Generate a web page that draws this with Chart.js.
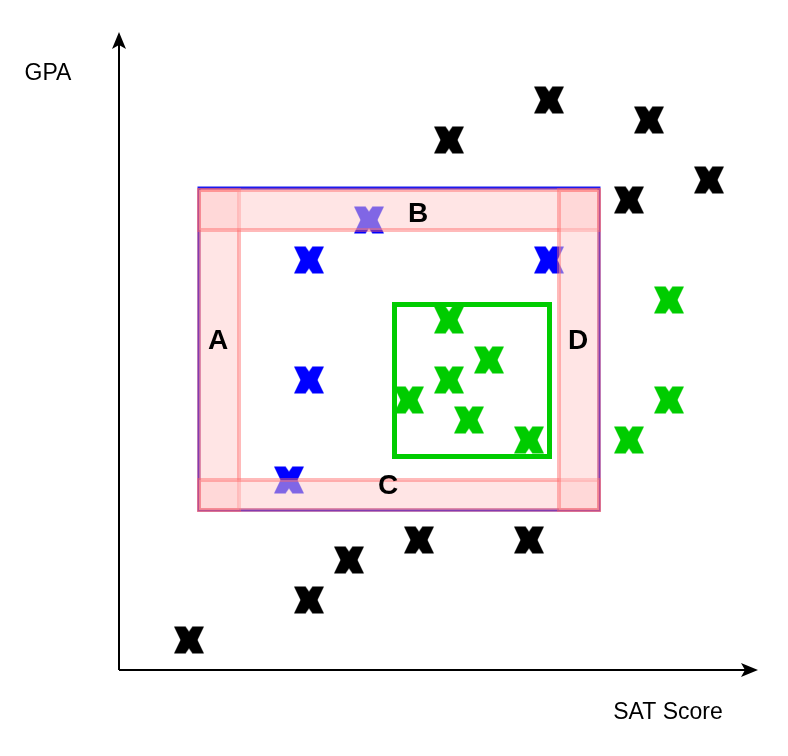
<!DOCTYPE html>
<html>
<head>
<meta charset="utf-8">
<script src="https://cdn.jsdelivr.net/npm/chart.js@4.4.1/dist/chart.umd.min.js"></script>
<style>
  html, body { margin: 0; padding: 0; background: #ffffff; }
  #wrap { width: 788px; height: 756px; }
</style>
</head>
<body>
<div id="wrap"><canvas id="c" width="788" height="756"></canvas></div>
<script>
// ---- data (SAT score units, GPA units; arbitrary, no ticks shown) ----
const blackSAT = [7, 19, 23, 30, 41, 33, 43, 53, 51, 59];
const blackGPA = [3, 7, 11, 13, 13, 53, 57, 55, 47, 49];
const blueSAT  = [19, 25, 43, 19, 17];
const blueGPA  = [41, 45, 41, 29, 19];
const greenSAT = [33, 37, 33, 29, 35, 41, 55, 55, 51];
const greenGPA = [35, 31, 29, 27, 25, 23, 37, 27, 23];

// regions: [xMin, xMax, yMin, yMax]
const outerBox = [8, 48, 16, 48.2];
const greenBox = [27.55, 43.05, 21.35, 36.55];
const bandNames = ['A', 'B', 'C', 'D'];
const bandBoxes = [
  [8, 12, 16, 48],
  [8, 48, 44, 48],
  [8, 48, 16, 19],
  [44, 48, 16, 48]
];
const bandLabelSAT = [9.9, 29.9, 26.9, 45.9];
const bandLabelGPA = [32.9, 45.6, 18.4, 32.9];
const xAxisTitle = 'SAT Score';
const yAxisTitle = 'GPA';

function makeX(color) {
  const w = 32, h = 29;
  const cv = document.createElement('canvas');
  cv.width = w; cv.height = h;
  const g = cv.getContext('2d');
  g.translate(w / 2, h / 2);
  g.fillStyle = color;
  g.beginPath();
  const pts = [[-15,-13.5],[-3.5,-13.5],[0,-8.5],[3.5,-13.5],[15,-13.5],[8.5,0],[15,13.5],[3.5,13.5],[0,8.5],[-3.5,13.5],[-15,13.5],[-8.5,0]];
  pts.forEach((p, i) => i ? g.lineTo(p[0], p[1]) : g.moveTo(p[0], p[1]));
  g.closePath();
  g.fill();
  return cv;
}

function pts(xs, ys) { return xs.map((x, i) => ({ x: x, y: ys[i] })); }

function rectPx(chart, b) {
  const xs = chart.scales.x, ys = chart.scales.y;
  const x1 = xs.getPixelForValue(b[0]), x2 = xs.getPixelForValue(b[1]);
  const y1 = ys.getPixelForValue(b[3]), y2 = ys.getPixelForValue(b[2]);
  return [x1, y1, x2 - x1, y2 - y1];
}

const decor = {
  id: 'decor',
  beforeDatasetsDraw(chart) {
    const ctx = chart.ctx;
    const ca = chart.chartArea;
    const xs = chart.scales.x, ys = chart.scales.y;
    ctx.save();
    // axes with arrows
    const ox = xs.getPixelForValue(0), oy = ys.getPixelForValue(0);
    ctx.strokeStyle = '#000'; ctx.fillStyle = '#000'; ctx.lineWidth = 2;
    ctx.beginPath();
    ctx.moveTo(ox, oy); ctx.lineTo(ox, ca.top + 8);
    ctx.moveTo(ox, oy); ctx.lineTo(ca.right - 8, oy);
    ctx.stroke();
    ctx.beginPath();
    ctx.moveTo(ox, ca.top); ctx.lineTo(ox - 7, ca.top + 17); ctx.lineTo(ox, ca.top + 13); ctx.lineTo(ox + 7, ca.top + 17); ctx.closePath();
    ctx.fill();
    ctx.beginPath();
    ctx.moveTo(ca.right, oy); ctx.lineTo(ca.right - 17, oy - 7); ctx.lineTo(ca.right - 13, oy); ctx.lineTo(ca.right - 17, oy + 7); ctx.closePath();
    ctx.fill();
    // titles
    ctx.font = '23px "Liberation Sans", Arial, sans-serif';
    ctx.textAlign = 'center'; ctx.textBaseline = 'middle';
    ctx.fillText(yAxisTitle, 48, 74);
    ctx.fillText(xAxisTitle, 668, 713);
    // outer blue rectangle
    let r = rectPx(chart, outerBox);
    ctx.strokeStyle = '#1a1aee'; ctx.lineWidth = 3;
    ctx.strokeRect(r[0], r[1], r[2], r[3]);
    // green rectangle
    r = rectPx(chart, greenBox);
    ctx.strokeStyle = '#00cc00'; ctx.lineWidth = 5;
    ctx.strokeRect(r[0], r[1], r[2], r[3]);
    ctx.restore();
  },
  afterDatasetsDraw(chart) {
    const ctx = chart.ctx;
    const xs = chart.scales.x, ys = chart.scales.y;
    ctx.save();
    bandBoxes.forEach(b => {
      const r = rectPx(chart, b);
      ctx.fillStyle = 'rgba(255,204,204,0.5)';
      ctx.fillRect(r[0], r[1], r[2], r[3]);
      ctx.strokeStyle = 'rgba(255,102,102,0.45)'; ctx.lineWidth = 4;
      ctx.strokeRect(r[0], r[1], r[2], r[3]);
    });
    ctx.fillStyle = '#000';
    ctx.font = 'bold 28px "Liberation Sans", Arial, sans-serif';
    ctx.textAlign = 'center'; ctx.textBaseline = 'middle';
    bandNames.forEach((n, i) => {
      ctx.fillText(n, xs.getPixelForValue(bandLabelSAT[i]), ys.getPixelForValue(bandLabelGPA[i]));
    });
    ctx.restore();
  }
};

new Chart(document.getElementById('c'), {
  type: 'scatter',
  data: {
    datasets: [
      { label: 'black', data: pts(blackSAT, blackGPA), pointStyle: makeX('#000000') },
      { label: 'blue', data: pts(blueSAT, blueGPA), pointStyle: makeX('#0000ff') },
      { label: 'green', data: pts(greenSAT, greenGPA), pointStyle: makeX('#00cc00') }
    ]
  },
  options: {
    responsive: false,
    animation: false,
    devicePixelRatio: 1,
    layout: { padding: { left: 119, right: 30, top: 32, bottom: 86 } },
    scales: {
      x: { type: 'linear', display: false, min: 0, max: 63.9 },
      y: { type: 'linear', display: false, min: 0, max: 63.8 }
    },
    plugins: { legend: { display: false }, tooltip: { enabled: false } }
  },
  plugins: [decor]
});
</script>
</body>
</html>
